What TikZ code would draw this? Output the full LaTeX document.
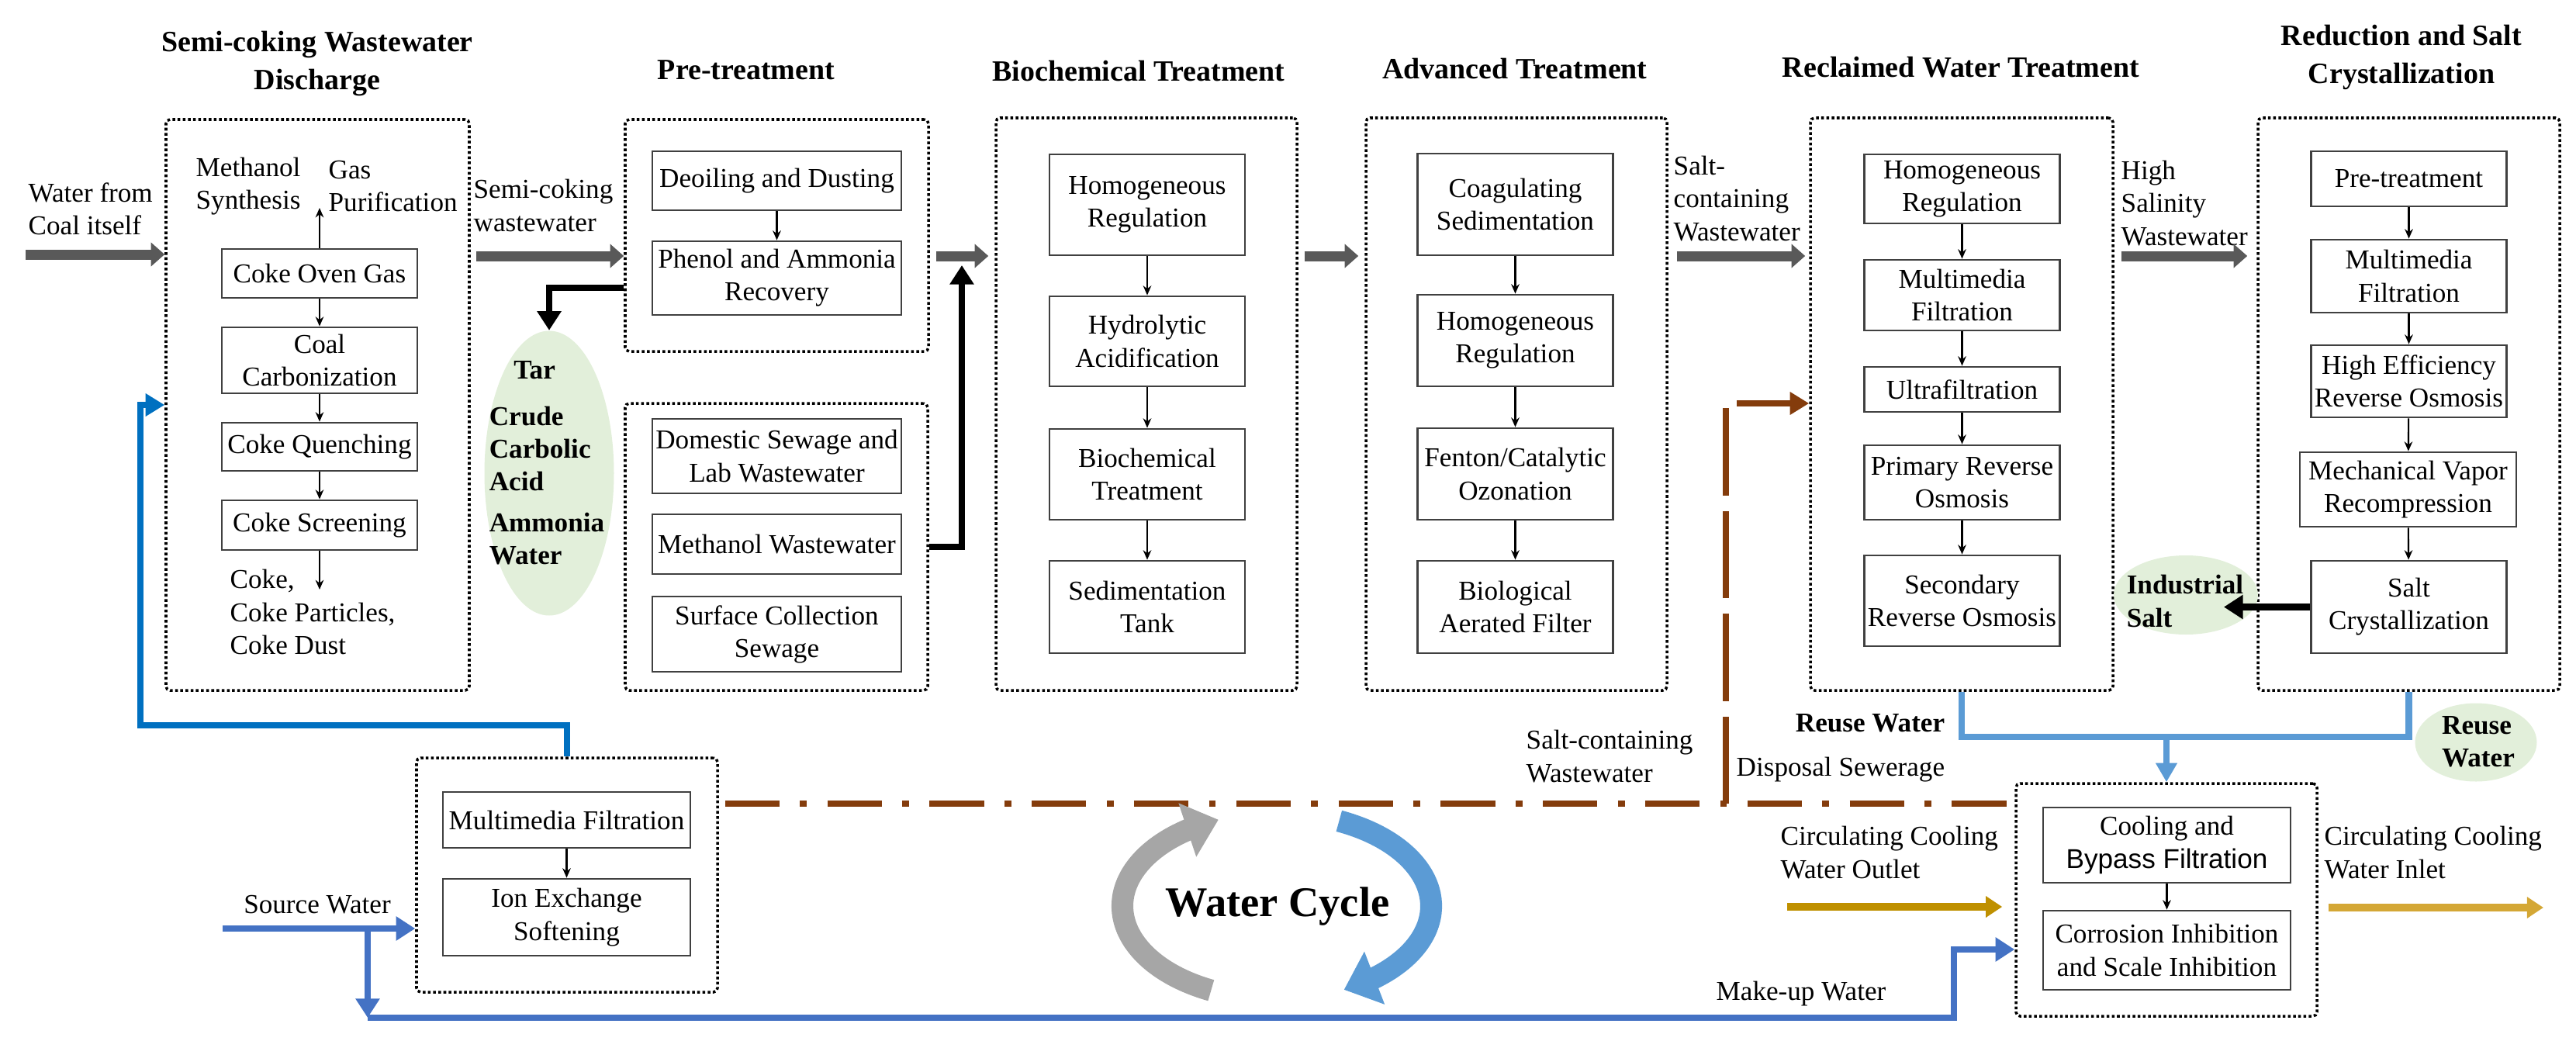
\documentclass[tikz,border=0pt]{standalone}
\usepackage{fontspec}
\setmainfont{Liberation Serif}
\newfontfamily\arialfont{Liberation Sans}
\usepackage{xcolor}
\usetikzlibrary{arrows.meta,shapes.geometric,calc,bending}

\definecolor{pipegray}{HTML}{595959}
\definecolor{prodgreen}{HTML}{E2EFDA}
\definecolor{softblue}{HTML}{0070C0}
\definecolor{srcblue}{HTML}{4472C4}
\definecolor{reuseblue}{HTML}{5B9BD5}
\definecolor{sewbrown}{HTML}{843C0C}
\definecolor{coolgold}{HTML}{BF9000}
\definecolor{warmgold}{HTML}{D4A735}
\definecolor{cyclegray}{HTML}{A6A6A6}

\begin{document}
\begin{tikzpicture}[
    stage/.style={rectangle, draw=black, line width=1pt, dash pattern=on 1pt off 0.9pt, rounded corners=1.5pt, inner sep=0pt},
    proc/.style={rectangle, draw=black!75, line width=0.8pt, align=center, inner xsep=1pt, inner ysep=1pt, minimum width=2.52cm},
    heading/.style={font=\fontsize{10.8}{14}\selectfont\bfseries, align=center},
    lbl/.style={align=left, anchor=west, inner sep=0pt},
    link/.style={-{Stealth[length=3.5pt,width=3pt]}, line width=0.6pt},
    mainflow/.style={-{Triangle[length=5pt,width=8.5pt]}, line width=3.7pt, pipegray},
    heavy/.style={-{Triangle[length=7pt,width=8.5pt]}, line width=2.5pt},
    product/.style={ellipse, fill=prodgreen, inner sep=0pt},
    prodtext/.style={font=\bfseries, align=left, inner sep=0pt},
    softpipe/.style={-{Triangle[length=7pt,width=8pt]}, line width=2.4pt, softblue},
    srcpipe/.style={-{Triangle[length=7pt,width=8.5pt]}, line width=2.4pt, srcblue},
    reusepipe/.style={line width=2.3pt, reuseblue},
    sewline/.style={line width=2.5pt, sewbrown, dash pattern=on 20pt off 7.5pt on 2.5pt off 7.5pt},
    sewup/.style={-{Triangle[length=7pt,width=8pt]}, line width=2.5pt, sewbrown, dash pattern=on 32pt off 5.7pt},
    goldpipe/.style={-{Triangle[length=6pt,width=7.5pt]}, line width=2.6pt},
    cyclearrow/.style={line width=8pt, -{Triangle[length=12pt,width=20pt]}}
]
\useasboundingbox (0,0) rectangle (33.21,-13.42);

% headings
\node[heading] (t1) at (4.09,-0.82) {Semi-coking Wastewater\\Discharge};
\node[heading] (t2) at (9.62,-0.90) {Pre-treatment};
\node[heading] (t3) at (14.68,-0.92) {Biochemical Treatment};
\node[heading] (t4) at (19.53,-0.89) {Advanced Treatment};
\node[heading] (t5) at (25.28,-0.87) {Reclaimed Water Treatment};
\node[heading] (t6) at (30.96,-0.74) {Reduction and Salt\\Crystallization};

% dotted stages
\node[stage, minimum width=3.91cm, minimum height=7.36cm] (g1) at (4.095,-5.22) {};
\node[stage, minimum width=3.91cm, minimum height=2.99cm] (g2) at (10.015,-3.035) {};
\node[stage, minimum width=3.90cm, minimum height=3.70cm] (g3) at (10.01,-7.05) {};
\node[stage, minimum width=3.88cm, minimum height=7.38cm] (g4) at (14.78,-5.21) {};
\node[stage, minimum width=3.88cm, minimum height=7.38cm] (g5) at (19.55,-5.21) {};
\node[stage, minimum width=3.90cm, minimum height=7.38cm] (g6) at (25.29,-5.21) {};
\node[stage, minimum width=3.89cm, minimum height=7.38cm] (g7) at (31.055,-5.21) {};
\node[stage, minimum width=3.88cm, minimum height=3.02cm] (g8) at (7.31,-11.28) {};
\node[stage, minimum width=3.88cm, minimum height=3.00cm] (g9) at (27.93,-11.60) {};

% semi-coking discharge
\node[proc, minimum height=0.63cm] (oven) at (4.12,-3.525) {Coke Oven Gas};
\node[proc, minimum height=0.85cm] (carb) at (4.12,-4.645) {Coal\\Carbonization};
\node[proc, minimum height=0.62cm] (quench) at (4.12,-5.76) {Coke Quenching};
\node[proc, minimum height=0.64cm] (screen) at (4.12,-6.77) {Coke Screening};

% pre-treatment
\node[proc, minimum width=3.21cm, minimum height=0.76cm] (deoil) at (10.015,-2.33) {Deoiling and Dusting};
\node[proc, minimum width=3.21cm, minimum height=0.95cm] (phenol) at (10.015,-3.585) {Phenol and Ammonia\\Recovery};
\node[proc, minimum width=3.21cm, minimum height=0.96cm] (domestic) at (10.015,-5.88) {Domestic Sewage and\\Lab Wastewater};
\node[proc, minimum width=3.21cm, minimum height=0.77cm] (methww) at (10.015,-7.015) {Methanol Wastewater};
\node[proc, minimum width=3.21cm, minimum height=0.97cm] (surface) at (10.015,-8.175) {Surface Collection\\Sewage};

% biochemical treatment
\node[proc, minimum height=1.30cm] (homo1) at (14.79,-2.64) {Homogeneous\\Regulation};
\node[proc, minimum height=1.16cm] (hydro) at (14.79,-4.40) {Hydrolytic\\Acidification};
\node[proc, minimum height=1.17cm] (biochem) at (14.79,-6.115) {Biochemical\\Treatment};
\node[proc, minimum height=1.19cm] (sedim) at (14.79,-7.825) {Sedimentation\\Tank};

% advanced treatment
\node[proc, minimum height=1.31cm] (coag) at (19.535,-2.635) {Coagulating\\Sedimentation};
\node[proc, minimum height=1.18cm] (homo2) at (19.535,-4.39) {Homogeneous\\Regulation};
\node[proc, minimum height=1.18cm] (fenton) at (19.535,-6.11) {Fenton/Catalytic\\Ozonation};
\node[proc, minimum height=1.19cm] (baf) at (19.535,-7.825) {Biological\\Aerated Filter};

% reclaimed water treatment
\node[proc, minimum height=0.89cm] (homo3) at (25.295,-2.435) {Homogeneous\\Regulation};
\node[proc, minimum height=0.91cm] (multi1) at (25.295,-3.805) {Multimedia\\Filtration};
\node[proc, minimum height=0.58cm] (ultra) at (25.295,-5.02) {Ultrafiltration};
\node[proc, minimum height=0.96cm] (primary) at (25.295,-6.22) {Primary Reverse\\Osmosis};
\node[proc, minimum height=1.17cm] (secondary) at (25.295,-7.745) {Secondary\\Reverse Osmosis};

% reduction and salt crystallization
\node[proc, minimum height=0.71cm] (pretr) at (31.055,-2.305) {Pre-treatment};
\node[proc, minimum height=0.94cm] (multi2) at (31.055,-3.56) {Multimedia\\Filtration};
\node[proc, minimum height=0.93cm] (heff) at (31.055,-4.915) {High Efficiency\\Reverse Osmosis};
\node[proc, minimum width=2.79cm, minimum height=0.96cm] (mvr) at (31.045,-6.31) {Mechanical Vapor\\Recompression};
\node[proc, minimum height=1.19cm] (salt) at (31.055,-7.825) {Salt\\Crystallization};

% softening
\node[proc, minimum width=3.19cm, minimum height=0.72cm] (mmf) at (7.305,-10.57) {Multimedia Filtration};
\node[proc, minimum width=3.19cm, minimum height=0.99cm] (ion) at (7.305,-11.825) {Ion Exchange\\Softening};

% circulating cooling
\node[proc, minimum width=3.19cm, minimum height=0.97cm] (cool) at (27.935,-10.895) {Cooling and\\{\arialfont Bypass Filtration}};
\node[proc, minimum width=3.19cm, minimum height=1.02cm] (corr) at (27.935,-12.25) {Corrosion Inhibition\\and Scale Inhibition};

% by-products
\node[product, minimum width=1.67cm, minimum height=3.67cm] (tar) at (7.08,-6.10) {};
\node[prodtext] (tartext) at (7.05,-5.97) {\hspace{0.9em}Tar\\[5pt]Crude\\Carbolic\\Acid\\[3pt]Ammonia\\Water};
\node[product, minimum width=1.86cm, minimum height=1.02cm] (ind) at (28.18,-7.67) {};
\node[prodtext] (indtext) at (28.17,-7.75) {Industrial\\Salt};
\node[product, minimum width=1.57cm, minimum height=1.01cm] (reuse) at (31.92,-9.57) {};
\node[prodtext] (reusetext) at (31.95,-9.56) {Reuse\\Water};

% labels
\node[lbl] (coalwater) at (0.36,-2.69) {Water from\\Coal itself};
\node[lbl] (methsyn) at (2.52,-2.40) {Methanol\\Synthesis};
\node[lbl] (gaspur) at (4.23,-2.40) {Gas\\Purification};
\node[lbl] (cokeprod) at (2.96,-7.89) {Coke,\\Coke Particles,\\Coke Dust};
\node[lbl] (semiww) at (6.10,-2.65) {Semi-coking\\wastewater};
\node[lbl] (saltww) at (21.57,-2.56) {Salt-\\containing\\Wastewater};
\node[lbl] (hsww) at (27.34,-2.62) {High\\Salinity\\Wastewater};
\node[lbl] (sewsalt) at (19.67,-9.75) {Salt-containing\\Wastewater};
\node[lbl] (disposal) at (22.38,-9.92) {Disposal Sewerage};
\node[font=\bfseries] (reusetxt) at (24.11,-9.32) {Reuse Water};
\node[lbl] (outtxt) at (22.95,-10.99) {Circulating Cooling\\Water Outlet};
\node[lbl] (intxt) at (29.96,-10.99) {Circulating Cooling\\Water Inlet};
\node (srctxt) at (4.09,-11.66) {Source Water};
\node (mktxt) at (23.22,-12.81) {Make-up Water};
\node[font=\fontsize{15.5}{18}\selectfont\bfseries] (cycle) at (16.47,-11.68) {Water Cycle};

% free ends
\coordinate (main) at (0,-3.30);
\coordinate (coalin) at (0.33,-3.28);
\coordinate (gasout) at (0,-2.68);
\coordinate (cokeend) at (0,-7.60);
\coordinate (tarout) at (0,-3.71);
\coordinate (methout) at (0,-7.05);
\coordinate (mixin) at (12.40,-3.42);
\coordinate (saltout) at (28.67,0);
\coordinate (softbend) at (1.81,-9.35);
\coordinate (softin) at (0,-5.22);
\coordinate (srcin) at (2.87,-11.97);
\coordinate (split) at (4.74,-11.97);
\coordinate (mkcorner) at (4.74,-13.12);
\coordinate (mkup) at (25.19,-12.24);
\coordinate (reusebus) at (27.93,-9.50);
\coordinate (sewer) at (0,-10.36);
\coordinate (sewup) at (22.25,-10.36);
\coordinate (saltin) at (0,-5.20);
\coordinate (outlet) at (23.04,-11.69);
\coordinate (inlet) at (32.79,-11.70);
\coordinate (cyc) at (16.45,-11.68);

% small steps
\draw[link] (oven.north) -- (oven.north |- gasout);
\draw[link] (oven) -- (carb);
\draw[link] (carb) -- (quench);
\draw[link] (quench) -- (screen);
\draw[link] (screen.south) -- (screen.south |- cokeend);
\draw[link] (deoil) -- (phenol);
\draw[link] (homo1) -- (hydro);
\draw[link] (hydro) -- (biochem);
\draw[link] (biochem) -- (sedim);
\draw[link] (coag) -- (homo2);
\draw[link] (homo2) -- (fenton);
\draw[link] (fenton) -- (baf);
\draw[link] (homo3) -- (multi1);
\draw[link] (multi1) -- (ultra);
\draw[link] (ultra) -- (primary);
\draw[link] (primary) -- (secondary);
\draw[link] (pretr) -- (multi2);
\draw[link] (multi2) -- (heff);
\draw[link] (heff) -- (mvr);
\draw[link] (mvr) -- (salt);
\draw[link] (mmf) -- (ion);
\draw[link] (cool) -- (corr);

% main flow
\draw[mainflow] (coalin) -- (coalin -| g1.west);
\draw[mainflow, shorten <=0.07cm] (g1.east |- main) -- (g2.west |- main);
\draw[mainflow, shorten <=0.08cm, shorten >=0.08cm] (g2.east |- main) -- (g4.west |- main);
\draw[mainflow, shorten <=0.08cm, shorten >=0.08cm] (g4.east |- main) -- (g5.west |- main);
\draw[mainflow, shorten <=0.11cm, shorten >=0.05cm] (g5.east |- main) -- (g6.west |- main);
\draw[mainflow, shorten <=0.09cm, shorten >=0.12cm] (g6.east |- main) -- (g7.west |- main);

% by-product and side streams
\draw[heavy] (g2.west |- tarout) -| (tar.north);
\draw[heavy] (g3.east |- methout) -| (mixin);
\draw[heavy] (salt.west) -- (salt.west -| saltout);

% softened water
\draw[softpipe] (g8.north) |- (softbend) |- (g1.west |- softin);
\draw[srcpipe] (srcin) -- (srcin -| g8.west);
\draw[srcpipe] (split) -- (mkcorner);
\draw[srcpipe] (mkcorner) -| (mkup) -- (mkup -| g9.west);

% reuse water
\draw[reusepipe] (g6.south) |- (reusebus) -| (g7.south);
\draw[reusepipe, -{Triangle[length=7pt,width=7.5pt]}] (reusebus) -- (g9.north);

% sewerage
\draw[sewline, shorten <=0.08cm] (g8.east |- sewer) -- (g9.west |- sewer);
\draw[sewup] (sewup) |- (g6.west |- saltin);

% circulating cooling
\draw[goldpipe, coolgold, shorten >=0.16cm] (outlet) -- (outlet -| g9.west);
\draw[goldpipe, warmgold, shorten <=0.13cm] (g9.east |- inlet) -- (inlet);

% water cycle
\draw[cyclearrow, cyclegray] ($(cyc)+(245:1.98 and 1.20)$) arc[start angle=245, end angle=112, x radius=1.98, y radius=1.20];
\draw[cyclearrow, reuseblue] ($(cyc)+(66:2.0 and 1.20)$) arc[start angle=66, end angle=-64, x radius=2.0, y radius=1.20];
\end{tikzpicture}
\end{document}
